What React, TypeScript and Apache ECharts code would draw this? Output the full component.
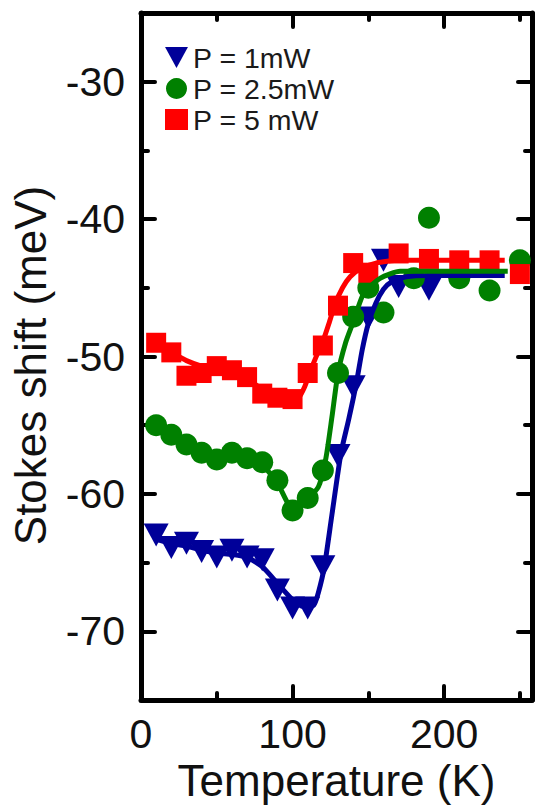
import React, { useEffect, useRef } from "react";
import * as echarts from "echarts";

const temps1 = [10, 20, 30, 40, 50, 60, 70, 80, 90, 100, 110, 120, 130, 140, 150, 160, 170, 190];
const shift1 = [-63.0, -63.9, -63.6, -64.2, -64.6, -64.1, -64.6, -64.8, -67.0, -68.3, -68.3, -65.3, -57.2, -52.2, -47.2, -43.0, -44.9, -45.1];

const temps2 = [10, 20, 30, 40, 50, 60, 70, 80, 90, 100, 110, 120, 130, 140, 150, 160, 180, 190, 210, 230, 250];
const shift2 = [-55.0, -55.7, -56.4, -57.0, -57.5, -57.0, -57.4, -57.7, -59.0, -61.2, -60.3, -58.3, -51.2, -47.1, -45.0, -46.8, -44.3, -39.9, -44.3, -45.2, -43.0];

const temps3 = [10, 20, 30, 40, 50, 60, 70, 80, 90, 100, 110, 120, 130, 140, 150, 170, 190, 210, 230, 250];
const shift3 = [-49.0, -49.7, -51.4, -51.2, -50.7, -51.0, -51.5, -52.7, -53.0, -53.1, -51.2, -49.2, -46.3, -43.2, -43.9, -42.5, -42.9, -43.0, -43.0, -44.0];

const fitT1 = [10, 20, 30, 40, 50, 60, 70, 80, 90, 100, 107, 114, 117, 121, 126, 132, 137, 142, 146, 150, 155, 160, 165, 175, 190, 240];
const fitV1 = [-63.3, -63.6, -63.8, -64.1, -64.3, -64.4, -64.6, -65.3, -66.5, -67.7, -68.2, -68.1, -67.2, -65.3, -61.5, -57.0, -54.6, -52.0, -49.5, -47.6, -46.1, -45.1, -44.6, -44.2, -44.1, -44.1];

const fitT2 = [10, 20, 30, 40, 50, 60, 70, 80, 90, 97, 102, 108, 117, 122, 126, 130, 135, 140, 147, 158, 171, 242];
const fitV2 = [-55.1, -55.7, -56.3, -56.9, -57.3, -57.2, -57.4, -57.9, -59.2, -60.7, -61.1, -60.6, -59.5, -57.4, -54.4, -51.2, -49.0, -47.5, -45.4, -44.3, -43.8, -43.8];

const fitT3 = [10, 20, 30, 40, 50, 60, 70, 80, 90, 100, 104, 108, 112, 116, 120, 124, 128, 133, 138, 145, 155, 170, 240];
const fitV3 = [-49.1, -49.7, -50.3, -50.7, -50.9, -51.1, -51.6, -52.4, -53.0, -53.2, -53.0, -52.2, -51.0, -49.9, -48.9, -47.6, -46.2, -45.0, -44.2, -43.6, -43.2, -43.0, -43.0];

const xMajor = [0, 100, 200];
const xMinor = [50, 150, 250];
const yMajor = [-70, -60, -50, -40, -30];
const yMinor = [-65, -55, -45, -35];

const names = ["P = 1mW", "P = 2.5mW", "P = 5 mW"];
const colors = ["#000099", "#008000", "#ff0000"];

const FONT = "Liberation Sans, Arial, Helvetica, sans-serif";

const zip = (a: number[], b: number[]) => a.map((v, i) => [v, b[i]]);

export default function App() {
  const ref = useRef<HTMLDivElement>(null);
  useEffect(() => {
    if (!ref.current) return;
    const chart = echarts.init(ref.current, undefined, { renderer: "svg" });
    const X_MIN = 0, X_MAX = 258, Y_MIN = -75, Y_MAX = -25;
    const tickStyle = { color: "#000", width: 4, cap: "round" };
    const mkX = (pos: string, major: boolean, labels: boolean) => ({
      type: "value",
      min: X_MIN,
      max: X_MAX,
      position: pos,
      axisLine: { show: major, onZero: false, lineStyle: { color: "#000", width: 5 } },
      axisTick: { show: true, inside: true, length: major ? 14 : 7, lineStyle: tickStyle, customValues: major ? xMajor : xMinor },
      axisLabel: labels
        ? { show: true, customValues: xMajor, fontSize: 41, color: "#111", fontFamily: FONT, margin: 13 }
        : { show: false },
      splitLine: { show: false },
      name: labels ? "Temperature (K)" : "",
      nameLocation: "middle",
      nameGap: 57,
      nameTextStyle: { fontSize: 44, color: "#111", fontFamily: FONT },
    });
    const mkY = (pos: string, major: boolean, labels: boolean) => ({
      type: "value",
      min: Y_MIN,
      max: Y_MAX,
      position: pos,
      axisLine: { show: major, onZero: false, lineStyle: { color: "#000", width: 5 } },
      axisTick: { show: true, inside: true, length: major ? 14 : 7, lineStyle: tickStyle, customValues: major ? yMajor : yMinor },
      axisLabel: labels
        ? { show: true, customValues: yMajor, fontSize: 41, color: "#111", fontFamily: FONT, margin: 16 }
        : { show: false },
      splitLine: { show: false },
      name: labels ? "Stokes shift (meV)" : "",
      nameLocation: "middle",
      nameGap: 89,
      nameRotate: 90,
      nameTextStyle: { fontSize: 44, color: "#111", fontFamily: FONT, padding: [0, 18, 0, 0] },
    });
    const symbols = [
      { symbol: "triangle", symbolRotate: 180, symbolSize: [25, 23] },
      { symbol: "circle", symbolRotate: 0, symbolSize: 22 },
      { symbol: "rect", symbolRotate: 0, symbolSize: 20 },
    ];
    const fits = [zip(fitT1, fitV1), zip(fitT2, fitV2), zip(fitT3, fitV3)];
    const pts = [zip(temps1, shift1), zip(temps2, shift2), zip(temps3, shift3)];
    const series: any[] = [];
    for (let i = 0; i < 3; i++) {
      series.push({
        type: "line",
        name: names[i] + " fit",
        data: fits[i],
        xAxisIndex: 0,
        yAxisIndex: 0,
        showSymbol: false,
        symbol: "none",
        smooth: 0.2,
        lineStyle: { color: colors[i], width: 5 },
        silent: true,
      });
      series.push({
        type: "scatter",
        name: names[i],
        data: pts[i],
        xAxisIndex: 0,
        yAxisIndex: 0,
        symbol: symbols[i].symbol,
        symbolRotate: symbols[i].symbolRotate,
        symbolSize: symbols[i].symbolSize,
        itemStyle: { color: colors[i], opacity: 1 },
      });
    }
    chart.setOption({
      animation: false,
      backgroundColor: "#fff",
      grid: { left: 138, right: 3, top: 13, bottom: 110, containLabel: false },
      xAxis: [mkX("bottom", true, true), mkX("bottom", false, false), mkX("top", true, false), mkX("top", false, false)],
      yAxis: [mkY("left", true, true), mkY("left", false, false), mkY("right", true, false), mkY("right", false, false)],
      legend: {
        orient: "vertical",
        left: 165,
        top: 43,
        padding: 0,
        itemGap: 2,
        itemWidth: 23,
        itemHeight: 21,
        textStyle: { fontSize: 28.5, color: "#1a1a1a", fontFamily: FONT, lineHeight: 28 },
        data: [
          { name: names[0], icon: "path://M0,0L24,0L12,22Z", itemStyle: { color: colors[0] } },
          { name: names[1], icon: "circle", itemStyle: { color: colors[1] } },
          { name: names[2], icon: "rect", itemStyle: { color: colors[2] } },
        ],
        selectedMode: false,
      },
      series,
    });
    return () => chart.dispose();
  }, []);
  return (
    <div
      ref={ref}
      style={{ position: "fixed", left: 0, top: 0, width: 535, height: 810, background: "#fff" }}
    />
  );
}
